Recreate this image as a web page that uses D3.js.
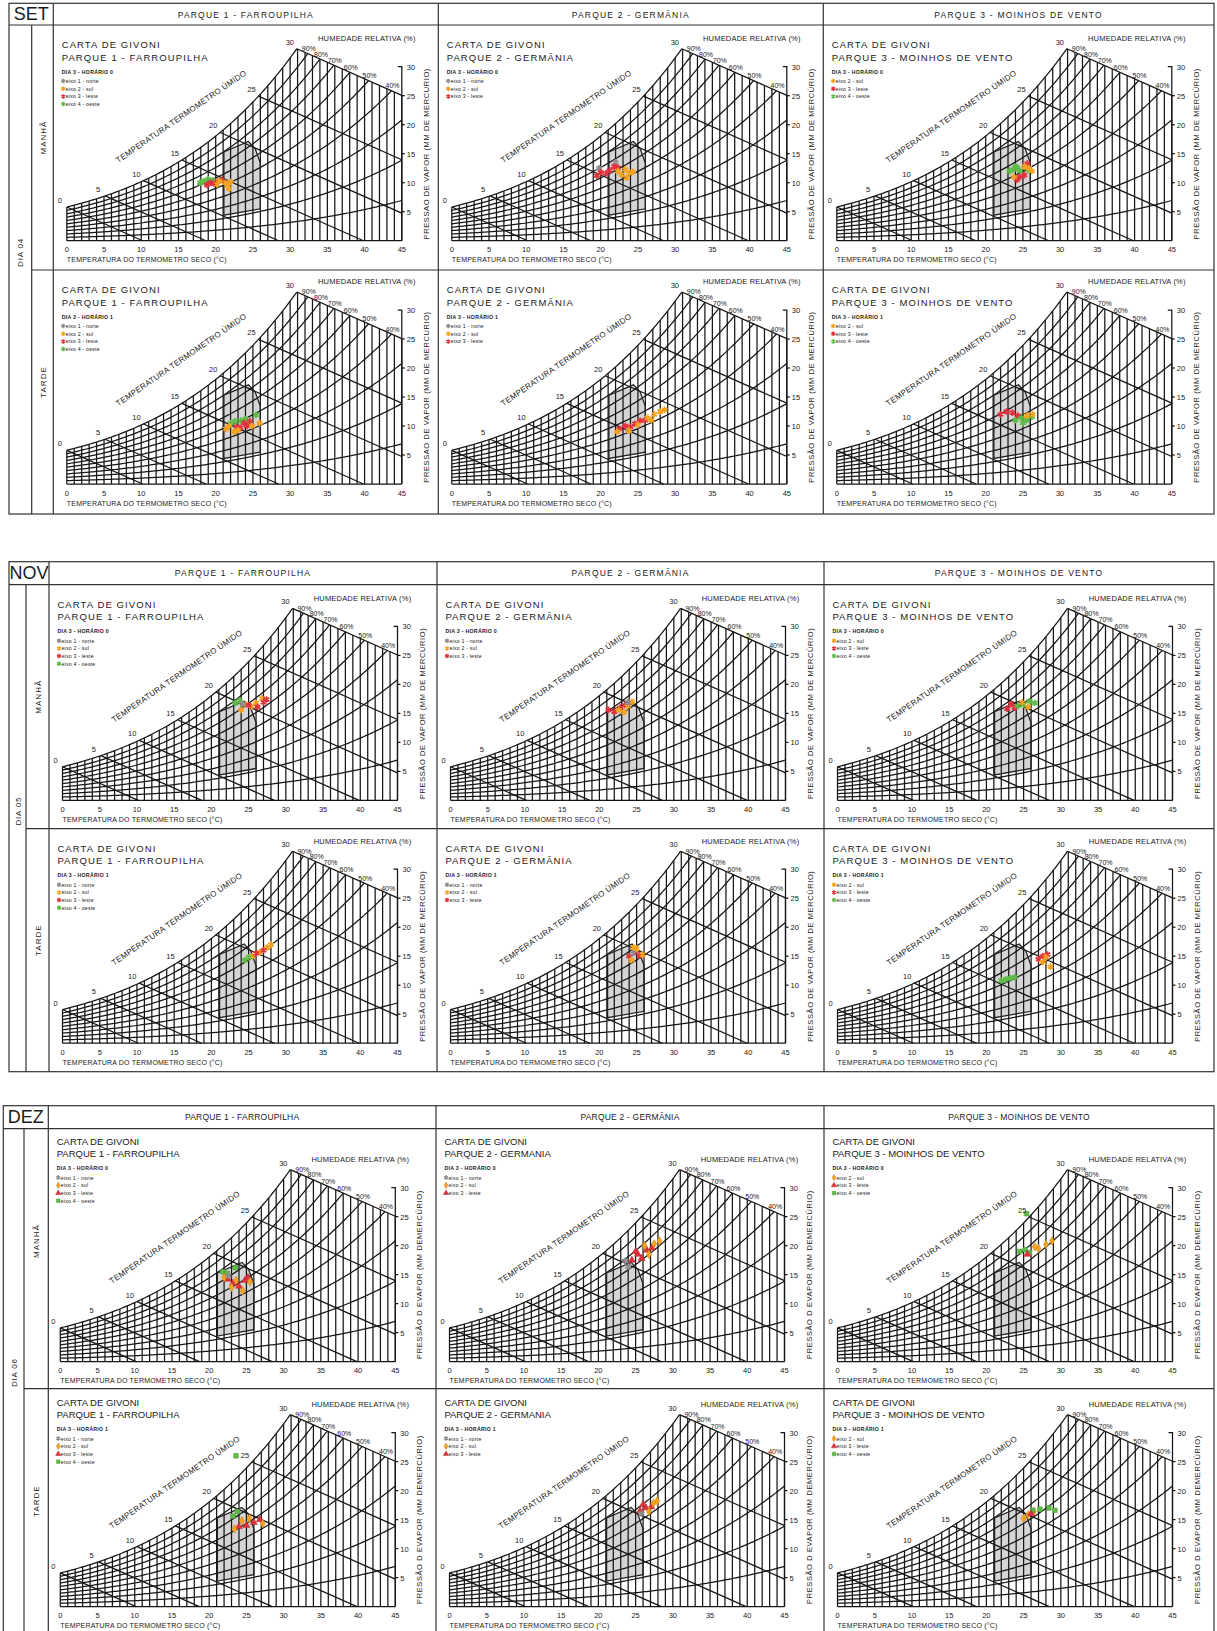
<!DOCTYPE html>
<html>
<head>
<meta charset="utf-8">
<script src="https://cdn.jsdelivr.net/npm/d3@7"></script>
<style>
  body { margin: 0; background: #fff; }
  svg { display: block; }
  text { font-family: "Liberation Sans", Arial, sans-serif; fill: #1a1a1a; }
</style>
</head>
<body>
<svg id="fig" width="1217" height="1631"></svg>
<script>
// ---- categories & labels ----
const MONTHS = ["SET", "NOV", "DEZ"];
const DAYS = ["DIA 04", "DIA 05", "DIA 06"];
const PERIODS = ["MANHÃ", "TARDE"];
const PARK_HEADERS = [
  ["PARQUE 1 - FARROUPILHA", "PARQUE 2 - GERMÃNIA", "PARQUE 3 - MOINHOS DE VENTO"],
  ["PARQUE 1 - FARROUPILHA", "PARQUE 2 - GERMÂNIA", "PARQUE 3 - MOINHOS DE VENTO"],
  ["PARQUE 1 - FARROUPILHA", "PARQUE 2 - GERMÂNIA", "PARQUE 3 - MOINHOS DE VENTO"]
];
const PARK_TITLES = [
  ["PARQUE 1 - FARROUPILHA", "PARQUE 2 - GERMÃNIA", "PARQUE 3 - MOINHOS DE VENTO"],
  ["PARQUE 1 - FARROUPILHA", "PARQUE 2 - GERMÂNIA", "PARQUE 3 - MOINHOS DE VENTO"],
  ["PARQUE 1 - FARROUPILHA", "PARQUE 2 - GERMANIA", "PARQUE 3 - MOINHOS DE VENTO"]
];
const HORARIO = ["DIA 3 - HORÁRIO 0", "DIA 3 - HORÁRIO 1"];
const EIXOS = ["eixo 1 - norte", "eixo 2 - sul", "eixo 3 - leste", "eixo 4 - oeste"];
const PARK_EIXOS = [[0, 1, 2, 3], [0, 1, 2], [1, 2, 3]];
const EIXO_COLORS = ["#8e8e8e", "#f5a21f", "#e2313d", "#5dbb46"];
const TEMP_TICKS = [0, 5, 10, 15, 20, 25, 30, 35, 40, 45];
const PRESS_TICKS = [5, 10, 15, 20, 25, 30];
const RH_LEVELS = [0.1, 0.2, 0.3, 0.4, 0.5, 0.6, 0.7, 0.8, 0.9];
const RH_LABELS = [0.9, 0.8, 0.7, 0.6, 0.5, 0.4];
const WET_BULB = [0, 5, 10, 15, 20, 25, 30];
const X_TITLE = "TEMPERATURA DO TERMOMETRO SECO  (°C)";
const WB_TITLE = "TEMPERATURA TERMOMETRO ÚMIDO";
const RH_TITLE = "HUMEDADE RELATIVA (%)";
const Y_TITLES = [
  ["PRESSAO DE VAPOR (MM DE MERCURIO)", "PRESSÃO DE VAPOR (MM DE MERCÚRIO)", "PRESSÃO DE VAPOR (MM DE MERCÚRIO)"],
  ["PRESSÃO DE VAPOR (MM DE MERCÚRIO)", "PRESSÃO DE VAPOR (MM DE MERCÚRIO)", "PRESSÃO DE VAPOR (MM DE MERCÚRIO)"],
  ["PRESSÃO D EVAPOR (MM DEMERCÚRIO)", "PRESSÃO D EVAPOR (MM DEMERCÚRIO)", "PRESSÃO D EVAPOR (MM DEMERCÚRIO)"]
];

// Givoni comfort zone outline, [dry bulb °C, vapour pressure mmHg]
const COMFORT_ZONE = [[21.1, 4.4], [21.1, 15.3], [24.4, 17.1], [25.3, 15.9], [26.0, 13.4], [26.0, 5.5]];

// ---- measurements: [eixo index, dry bulb °C, vapour pressure mmHg] ----
const SET_M_P1 = [[3,17.9,10.0],[3,18.4,10.3],[3,19.0,10.6],[3,19.6,10.4],[2,18.8,9.6],[2,19.3,10.0],[2,19.8,9.8],[2,20.3,10.2],[2,20.8,10.5],
  [1,20.5,10.3],[1,21.3,10.0],[1,21.6,9.4],[1,22.0,10.1],[1,21.8,9.0],[1,20.2,9.7]];
const SET_M_P2 = [[0,22.0,13.5],[0,19.8,12.5],[2,19.5,11.2],[2,20.0,11.8],[2,20.7,11.6],[2,21.2,12.1],[2,21.8,12.8],[2,22.3,12.6],
  [1,22.3,12.0],[1,22.8,11.4],[1,23.3,12.3],[1,23.8,11.6],[1,24.3,11.9],[1,23.5,10.9]];
const SET_M_P3 = [[3,23.2,12.0],[3,23.7,12.3],[3,24.2,12.6],[3,24.6,12.1],[3,25.7,12.2],[3,24.0,12.8],[2,24.2,10.5],[2,25.2,11.3],[2,25.6,13.3],[2,24.6,11.0],
  [1,23.8,11.0],[1,25.8,12.5],[1,26.2,12.0],[1,25.2,12.8]];
const SET_T_P1 = [[3,22.0,10.5],[3,22.6,10.8],[3,23.4,10.9],[3,24.5,10.6],[3,25.4,11.9],[3,24.0,11.2],[2,23.3,9.7],[2,23.8,10.5],[2,24.2,10.0],[2,22.8,9.8],[2,24.6,10.8],
  [1,21.4,9.5],[1,22.5,9.0],[1,25.9,10.5],[1,23.0,9.3],[1,24.9,10.0],[1,21.8,10.0]];
const SET_T_P2 = [[2,22.5,9.5],[2,23.3,10.0],[2,24.0,9.8],[2,24.6,10.4],[2,25.3,10.9],[2,26.0,11.0],
  [1,22.2,9.0],[1,23.8,9.2],[1,25.0,10.2],[1,26.3,11.4],[1,27.2,12.0],[1,28.0,12.5],[1,28.6,12.8],[1,26.8,11.0]];
const SET_T_P3 = [[2,22.0,12.0],[2,22.8,12.5],[2,23.6,12.3],[2,24.3,11.8],[3,24.0,11.0],[3,24.8,11.4],[3,25.5,11.0],[3,26.2,11.6],[3,25.0,10.5],[1,26.3,12.0],[1,25.5,11.8]];
const NOV_M_P1 = [[1,24.0,15.6],[1,24.6,16.6],[1,25.4,16.2],[1,26.0,16.8],[1,26.8,17.6],[2,25.0,16.4],[2,26.2,16.1],[2,27.0,16.9],[2,27.4,17.4],[3,23.2,16.8],[3,23.8,17.2],[0,24.2,16.6]];
const NOV_M_P2 = [[2,21.2,15.6],[2,22.0,15.3],[2,22.8,16.0],[2,23.4,16.4],[1,22.6,15.6],[1,23.8,16.2],[1,24.4,17.0],[1,23.3,15.2],[0,23.8,16.9]];
const NOV_M_P3 = [[2,22.8,15.8],[2,23.3,16.6],[2,23.8,16.0],[3,24.2,16.3],[3,25.0,16.5],[3,25.8,17.1],[3,26.5,16.8],[1,24.8,16.9],[1,25.6,16.1]];
const NOV_T_P1 = [[1,25.5,15.0],[1,26.5,15.7],[1,27.5,16.5],[1,28.0,17.0],[2,26.0,15.5],[2,27.0,16.0],[3,24.5,14.3],[3,25.0,14.8]];
const NOV_T_P2 = [[2,24.0,15.0],[2,24.8,15.7],[2,25.4,15.1],[1,24.3,14.3],[1,25.0,16.3],[1,25.8,15.3],[1,24.6,16.5],[0,24.5,15.5]];
const NOV_T_P3 = [[3,22.0,10.8],[3,22.6,11.0],[3,23.2,11.2],[3,23.8,11.4],[2,27.0,14.5],[2,27.6,15.0],[2,28.2,15.3],[1,27.6,14.0],[1,28.6,13.2],[1,28.0,14.8]];
const DEZ_M_P1 = [[3,21.8,15.5],[3,22.4,15.2],[3,23.5,16.2],[2,22.5,14.2],[2,23.2,13.5],[2,24.0,13.0],[2,24.8,14.0],[2,25.2,14.5],
  [1,22.0,14.5],[1,23.6,14.0],[1,24.5,12.2],[1,25.5,13.8],[1,23.0,12.8],[0,22.6,14.8]];
const DEZ_M_P2 = [[2,24.5,17.5],[2,25.3,18.5],[2,26.5,19.2],[2,27.2,19.6],[2,25.8,17.8],[2,25.0,19.0],[1,26.2,20.0],[1,27.5,20.3],[1,28.2,20.8],[1,26.8,18.5],[0,23.6,17.4],[0,24.0,16.4]];
const DEZ_M_P3 = [[3,24.5,19.0],[3,25.2,19.3],[3,25.8,18.8],[3,25.4,25.5],[1,27.0,19.5],[1,28.0,20.2],[1,28.8,20.8],[1,26.5,19.8],[2,25.5,18.5]];
const DEZ_T_P1 = [[2,24.0,13.8],[2,25.0,14.0],[2,26.0,14.5],[2,26.8,15.0],[1,23.4,13.4],[1,24.4,14.8],[1,25.4,15.2],[1,27.2,14.3],[3,23.2,15.6],[3,23.8,16.4],[3,23.6,26.0]];
const DEZ_T_P2 = [[2,25.6,16.5],[2,26.4,17.0],[2,27.1,17.2],[2,26.0,17.6],[1,27.4,17.8],[1,27.9,18.2],[1,26.8,16.4],[0,25.8,16.0]];
const DEZ_T_P3 = [[1,25.0,15.2],[1,25.6,15.8],[1,26.4,16.4],[3,26.2,16.6],[3,27.2,16.8],[3,28.4,17.0],[3,29.2,16.6],[2,26.0,16.0]];

const MEASUREMENTS = [
  [[SET_M_P1, SET_M_P2, SET_M_P3], [SET_T_P1, SET_T_P2, SET_T_P3]],
  [[NOV_M_P1, NOV_M_P2, NOV_M_P3], [NOV_T_P1, NOV_T_P2, NOV_T_P3]],
  [[DEZ_M_P1, DEZ_M_P2, DEZ_M_P3], [DEZ_T_P1, DEZ_T_P2, DEZ_T_P3]]
];

// ---- page layout ----
const SECTION_TOP = [3.3, 561.7, 1105.7];
const HEADER_H = [21.7, 23, 22.9];
const ROW_H = [[245, 244], [244, 243], [260, 262]];
const COL_X = [
  [9, 31.7, 53.3, 438.3, 823.3, 1214],
  [9, 26, 49, 437, 824, 1214],
  [3.3, 24, 48.3, 436, 824, 1214]
];
// grid baseline and title offsets inside a row, per section/row
const GRID_BASE = [[215.7, 214], [215.7, 214.5], [233, 218]];
const TITLE_BASE = [[23, 23], [23, 23], [16, 17]];

// ---- psychrometric relations used to build the chart grid ----
const psReal = t => 4.5802 * Math.exp(17.27 * t / (t + 237.3));
const psat = t => 0.944 * psReal(t) + 1.48;
const WB_SLOPE = 0.57;
const wbNode = tw => tw * 1.03;
const wbLine = (tw, t) => psat(wbNode(tw)) - WB_SLOPE * (t - wbNode(tw));
const TOP_T = wbNode(30);
const upper = t => (t <= TOP_T ? psat(t) : wbLine(30, t));

function crossing(f, a, b) {
  let fa = f(a);
  for (let i = 0; i < 40; i++) {
    const m = (a + b) / 2, fm = f(m);
    if ((fm > 0) === (fa > 0)) { a = m; fa = fm; } else { b = m; }
  }
  return (a + b) / 2;
}

const svg = d3.select("#fig");
svg.append("rect").attr("width", 1217).attr("height", 1631).attr("fill", "#fff");

// marker shapes: thin asterisks in SET/NOV, filled glyphs in DEZ
const DEZ_SHAPES = [d3.symbolAsterisk, d3.symbolDiamond, d3.symbolTriangle, d3.symbolSquare];
function styleMarker(sel, s, e, small) {
  if (s === 2 && e > 0) {
    sel.attr("d", d3.symbol().type(DEZ_SHAPES[e]).size(small ? 12 : 22)())
      .attr("fill", EIXO_COLORS[e]).attr("stroke", d3.color(EIXO_COLORS[e]).darker(0.6)).attr("stroke-width", 0.5);
  } else {
    sel.attr("d", d3.symbol().type(d3.symbolAsterisk).size(small ? 14 : 30)())
      .attr("fill", "none").attr("stroke", EIXO_COLORS[e]).attr("stroke-width", small ? 1.4 : 1.8);
  }
}

function drawChart(g, cx, cy, s, r, p) {
  const dez = s === 2;
  const ox = cx + (dez && p === 0 ? 12 : 13.5);
  const oy = cy + GRID_BASE[s][r];
  const x = d3.scaleLinear().domain([0, 45]).range([ox, ox + 335]);
  const y = d3.scaleLinear().domain([0, 30]).range([oy, oy - 174]);
  const line = d3.line().x(d => x(d[0])).y(d => y(d[1]));
  const ink = "#161616";

  g.append("path").attr("d", line(COMFORT_ZONE) + "Z").attr("fill", "#d5d5d5").attr("stroke", "none");

  const grid = g.append("g").attr("fill", "none").attr("stroke", ink).attr("stroke-width", 1.25);
  d3.range(0, 46).forEach(t => grid.append("path").attr("d", line([[t, 0], [t, upper(t)]])));
  grid.append("path").attr("d", line([[0, 0], [45, 0]]));
  grid.append("path").attr("d", line(d3.range(0, TOP_T, 0.25).concat([TOP_T]).map(t => [t, psat(t)])));
  RH_LEVELS.forEach(rh => {
    const end = rh * psat(45) <= upper(45) ? 45 : crossing(t => rh * psat(t) - upper(t), 0.5, 45);
    const pts = d3.range(0, end, 0.25).concat([end]).map(t => [t, rh * psat(t)]);
    grid.append("path").attr("d", line(pts));
  });
  WET_BULB.forEach(tw => {
    const t0 = wbNode(tw);
    const t1 = Math.min(45, t0 + psat(t0) / WB_SLOPE);
    grid.append("path").attr("d", line([[t0, wbLine(tw, t0)], [t1, wbLine(tw, t1)]]));
  });
  const ax = x(45);
  grid.append("path").attr("d", `M${ax},${y(0)}V${y(30)}h-4`);
  PRESS_TICKS.slice(0, -1).forEach(v => grid.append("path").attr("d", `M${ax},${y(v)}h3`));

  g.append("path").attr("d", line(COMFORT_ZONE) + "Z").attr("fill", "none").attr("stroke", "#222").attr("stroke-width", 1.3);

  // measurement markers
  g.append("g").selectAll("path").data(MEASUREMENTS[s][r][p]).join("path")
    .attr("transform", d => `translate(${x(d[1])},${y(d[2])})`)
    .each(function(d) { styleMarker(d3.select(this), s, d[0], false); });

  const fs = 7.5;
  const txt = (tx, ty, str, size, extra) => {
    const t = g.append("text").attr("x", tx).attr("y", ty).attr("font-size", size).text(str);
    if (extra) extra(t);
    return t;
  };
  const ls = dez ? 0 : 1.1;
  const tb = cy + TITLE_BASE[s][r];
  txt(cx + 8.4, tb, "CARTA DE GIVONI", 9.5, t => t.attr("letter-spacing", ls));
  txt(cx + 8.4, tb + 12.5, PARK_TITLES[s][p], 9.5, t => t.attr("letter-spacing", ls));
  txt(cx + 8.4, tb + 25.5, HORARIO[r], 5.2, t => t.attr("font-weight", "bold").attr("letter-spacing", 0.3));
  PARK_EIXOS[p].forEach((e, i) => {
    const ly = tb + 33 + 7.7 * i;
    styleMarker(g.append("path").attr("transform", `translate(${cx + 10},${ly})`), s, e, true);
    txt(cx + 12.5, ly + 2, EIXOS[e], 5.2, t => t.attr("letter-spacing", 0.2));
  });
  txt(ox + 300, oy - 199.7, RH_TITLE, fs, t => t.attr("text-anchor", "middle").attr("letter-spacing", 0.2));

  WET_BULB.forEach(tw => {
    const t0 = wbNode(tw);
    txt(x(t0) - 7, y(psat(t0)) - 4, String(tw), fs, t => t.attr("text-anchor", "middle"));
  });
  RH_LABELS.forEach(rh => {
    const t = crossing(tt => rh * psat(tt) - upper(tt), TOP_T, 45);
    txt(x(t) + 1, y(upper(t)) - 2.5, Math.round(rh * 100) + "%", 7, tt => tt.attr("text-anchor", "middle"));
  });
  txt(0, 0, WB_TITLE, 8, t => t.attr("text-anchor", "middle").attr("letter-spacing", 0.3)
    .attr("transform", `translate(${ox + 116},${oy - 122}) rotate(-34.6)`));
  TEMP_TICKS.forEach(v => txt(x(v), oy + 11.5, String(v), fs, t => t.attr("text-anchor", "middle")));
  txt(ox, oy + 21.5, X_TITLE, 7, t => t.attr("letter-spacing", 0.2));
  PRESS_TICKS.forEach(v => txt(ax + 5, y(v) + 3, String(v), fs));
  txt(0, 0, Y_TITLES[s][p], fs, t => t.attr("text-anchor", "middle").attr("letter-spacing", 0.6)
    .attr("transform", `translate(${ax + 27},${y(15)}) rotate(-90)`));
}

MONTHS.forEach((m, s) => {
  const top = SECTION_TOP[s];
  const cols = COL_X[s];
  const hb = top + HEADER_H[s];
  const bottom = hb + ROW_H[s][0] + ROW_H[s][1];
  const g = svg.append("g");
  const frame = g.append("g").attr("stroke", "#333").attr("stroke-width", 1.2).attr("fill", "none");
  frame.append("rect").attr("x", cols[0]).attr("y", top).attr("width", cols[5] - cols[0]).attr("height", bottom - top);
  frame.append("path").attr("d", `M${cols[0]},${hb}H${cols[5]}`);
  frame.append("path").attr("d", `M${cols[1]},${hb}V${bottom}`);
  [2, 3, 4].forEach(c => frame.append("path").attr("d", `M${cols[c]},${top}V${bottom}`));
  frame.append("path").attr("d", `M${cols[1]},${hb + ROW_H[s][0]}H${cols[5]}`);

  g.append("text").attr("x", (cols[0] + cols[2]) / 2).attr("y", top + 17).attr("text-anchor", "middle")
    .attr("font-size", 18).text(m);
  PARK_HEADERS[s].forEach((h, p) => {
    g.append("text").attr("x", (cols[2 + p] + cols[3 + p]) / 2).attr("y", top + 14.5).attr("text-anchor", "middle")
      .attr("font-size", 8.5).attr("letter-spacing", s === 2 ? 0.2 : 1.2).text(h);
  });
  const midRows = hb + (ROW_H[s][0] + ROW_H[s][1]) / 2 - 17;
  g.append("text").attr("transform", `translate(${(cols[0] + cols[1]) / 2 + 3},${midRows}) rotate(-90)`)
    .attr("text-anchor", "middle").attr("font-size", 8).attr("letter-spacing", 0.8).text(DAYS[s]);
  PERIODS.forEach((per, r) => {
    const rt = hb + (r === 0 ? 0 : ROW_H[s][0]);
    g.append("text").attr("transform", `translate(${(cols[1] + cols[2]) / 2 + 3},${rt + Math.min(ROW_H[s][r], 245) / 2 - 10}) rotate(-90)`)
      .attr("text-anchor", "middle").attr("font-size", 8).attr("letter-spacing", 1).text(per);
    [0, 1, 2].forEach(p => drawChart(g.append("g"), cols[2 + p], rt, s, r, p));
  });
});
</script>
</body>
</html>
